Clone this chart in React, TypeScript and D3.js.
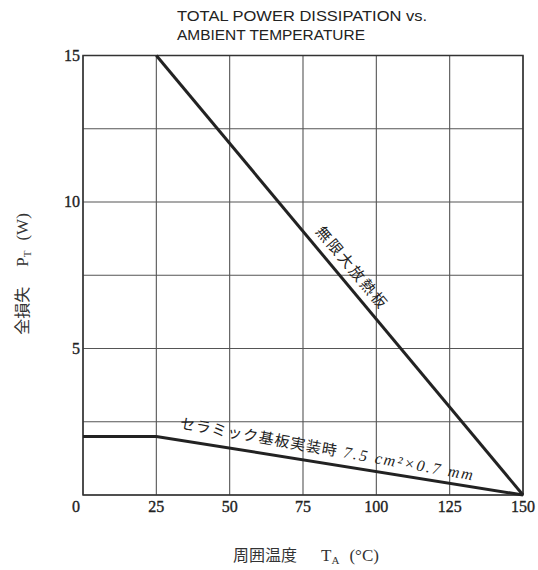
import React from "react";
import * as d3 from "d3";

const titleLines = ["TOTAL POWER DISSIPATION vs.", "AMBIENT TEMPERATURE"];
const xTicks = [0, 25, 50, 75, 100, 125, 150];
const xGrid = [0, 25, 50, 75, 100, 125, 150];
const yGrid = [0, 2.5, 5, 7.5, 10, 12.5, 15];
const yTickLabels = [5, 10, 15];
const heatsinkTemp = [25, 150];
const heatsinkPower = [15, 0];
const ceramicTemp = [0, 25, 150];
const ceramicPower = [2, 2, 0];
const heatsinkLabel = "無限大放熱板";
const ceramicLabelJa = "セラミック基板実装時";
const ceramicLabelEn = "7.5 cm²×0.7 mm";

const W = 538;
const H = 570;
const L = 83, R = 523, T = 55.5, B = 495;

export default function App() {
  const x = d3.scaleLinear().domain([0, 150]).range([L, R]);
  const y = d3.scaleLinear().domain([0, 15]).range([B, T]);
  const line = d3.line<[number, number]>().x(d => x(d[0])).y(d => y(d[1]));
  const hs: [number, number][] = heatsinkTemp.map((t, i) => [t, heatsinkPower[i]]);
  const cs: [number, number][] = ceramicTemp.map((t, i) => [t, ceramicPower[i]]);

  const hT = 88;
  const hP = 15 - (hT - 25) * 15 / 125;
  const hAng = Math.atan2(y(0) - y(15), x(150) - x(25)) * 180 / Math.PI;
  const cT = 82.5;
  const cP = 2 - (cT - 25) * 2 / 125;
  const cAng = Math.atan2(y(0) - y(2), x(150) - x(25)) * 180 / Math.PI + 1;

  const serif = "'Liberation Serif', 'DejaVu Serif', serif";
  const cjk = "'Noto Sans CJK JP', sans-serif";

  return (
    <svg width={W} height={H} style={{ position: "absolute", left: 0, top: 0, background: "#fff" }}>
      <rect x={0} y={0} width={W} height={H} fill="#fff" />
      {titleLines.map((t, i) => (
        <text key={i} x={177} y={21 + i * 18.5} fontFamily="'Liberation Sans', Arial, sans-serif" fontSize={15.5} fill="#222" textLength={i === 0 ? 250 : 188} lengthAdjust="spacingAndGlyphs">{t}</text>
      ))}
      {xGrid.map(v => (
        <line key={"vx" + v} x1={x(v)} x2={x(v)} y1={y(0)} y2={y(15)} stroke="#555" strokeWidth={1.1} />
      ))}
      {yGrid.map(v => (
        <line key={"hy" + v} x1={x(0)} x2={x(150)} y1={y(v)} y2={y(v)} stroke="#555" strokeWidth={1.1} />
      ))}
      <rect x={x(0)} y={y(15)} width={x(150) - x(0)} height={y(0) - y(15)} fill="none" stroke="#333" strokeWidth={1.5} />
      <path d={line(hs) || ""} fill="none" stroke="#222" strokeWidth={3} />
      <path d={line(cs) || ""} fill="none" stroke="#222" strokeWidth={3} />
      {xTicks.map(v => (
        <text key={"xt" + v} x={v === 0 ? x(v) - 7 : x(v)} y={512} textAnchor="middle" fontFamily={serif} fontSize={16} fill="#222" stroke="#222" strokeWidth={0.35}>{v}</text>
      ))}
      {yTickLabels.map(v => (
        <text key={"yt" + v} x={80} y={y(v) + 5} textAnchor="end" fontFamily={serif} fontSize={16} fill="#222" stroke="#222" strokeWidth={0.35}>{v}</text>
      ))}
      <g transform={`translate(${x(hT)},${y(hP)}) rotate(${hAng})`}>
        <text x={0} y={-9} textAnchor="middle" fontFamily={cjk} fontSize={15} fill="#222" letterSpacing={2.2}>{heatsinkLabel}</text>
      </g>
      <g transform={`translate(${x(cT)},${y(cP)}) rotate(${cAng})`}>
        <text x={0} y={-9} textAnchor="middle" fill="#222">
          <tspan fontFamily={cjk} fontSize={15} letterSpacing={1}>{ceramicLabelJa}</tspan>
          <tspan fontFamily={serif} fontSize={16} fontStyle="italic" dx={6} letterSpacing={2}>{ceramicLabelEn}</tspan>
        </text>
      </g>
      <text transform={`translate(28,274) rotate(-90)`} textAnchor="middle" fill="#333">
        <tspan fontFamily={cjk} fontSize={16}>全損失</tspan>
        <tspan fontFamily={serif} fontSize={17} dx={20}>P</tspan>
        <tspan fontFamily={serif} fontSize={11} dy={3}>T</tspan>
        <tspan fontFamily={serif} fontSize={17} dy={-3} dx={10}>(W)</tspan>
      </text>
      <text x={306} y={561} textAnchor="middle" fill="#333">
        <tspan fontFamily={cjk} fontSize={16}>周囲温度</tspan>
        <tspan fontFamily={serif} fontSize={17} dx={24}>T</tspan>
        <tspan fontFamily={serif} fontSize={11} dy={3}>A</tspan>
        <tspan fontFamily={serif} fontSize={17} dy={-3} dx={10}>(°C)</tspan>
      </text>
    </svg>
  );
}
